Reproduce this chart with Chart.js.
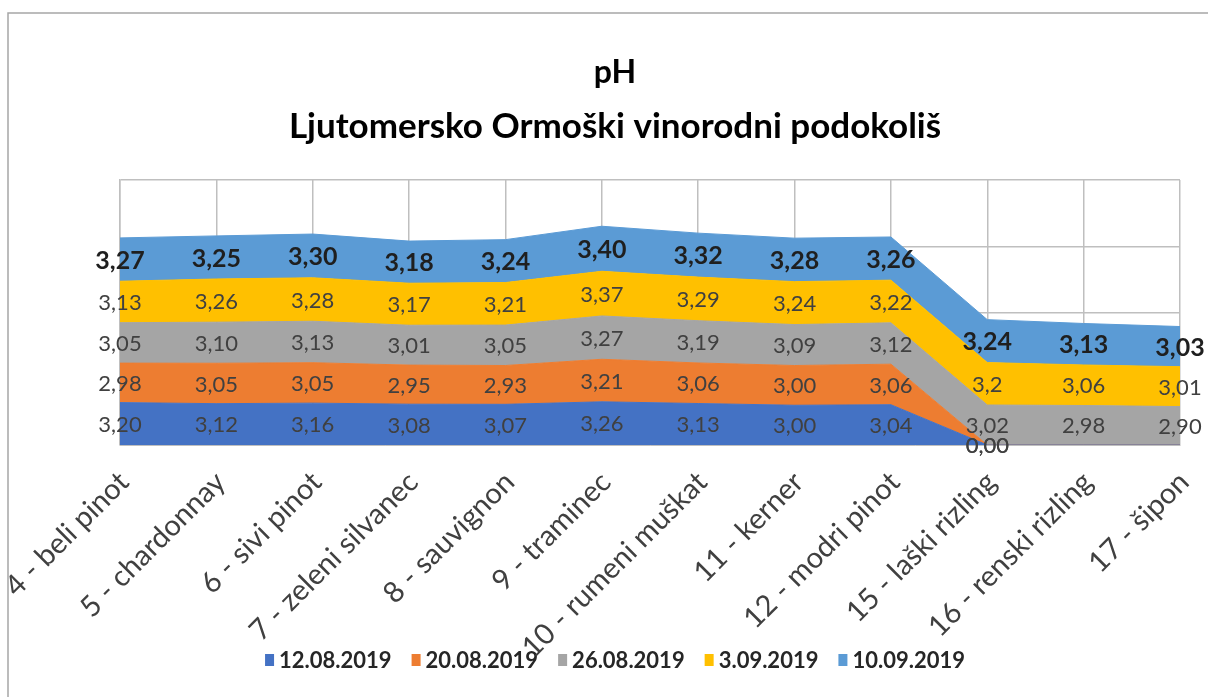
<!DOCTYPE html>
<html><head><meta charset="utf-8">
<script src="https://cdn.jsdelivr.net/npm/chart.js@4/dist/chart.umd.min.js"></script>
<style>html,body{margin:0;padding:0;background:#fff}canvas{display:block}</style>
</head><body>
<canvas id="c" width="1208" height="697"></canvas>
<script>
const categories = ['4 - beli pinot','5 - chardonnay','6 - sivi pinot','7 - zeleni silvanec','8 - sauvignon','9 - traminec','10 - rumeni muškat','11 - kerner','12 - modri pinot','15 - laški rizling','16 - renski rizling','17 - šipon'];
const seriesNames = ['12.08.2019','20.08.2019','26.08.2019','3.09.2019','10.09.2019'];
const s1208 = [3.20,3.12,3.16,3.08,3.07,3.26,3.13,3.00,3.04,0,null,null];
const s2008 = [2.98,3.05,3.05,2.95,2.93,3.21,3.06,3.00,3.06,0,null,null];
const s2608 = [3.05,3.10,3.13,3.01,3.05,3.27,3.19,3.09,3.12,3.02,2.98,2.90];
const s0309 = [3.13,3.26,3.28,3.17,3.21,3.37,3.29,3.24,3.22,3.2,3.06,3.01];
const s1009 = [3.27,3.25,3.30,3.18,3.24,3.40,3.32,3.28,3.26,3.24,3.13,3.03];
const yTicks = [0,5,10,15,20];
const labelFormats = ['fixed','fixed','fixed','general','fixed'];

const seriesData = [s1208, s2008, s2608, s0309, s1009];
const colors = ['#4472C4','#ED7D31','#A5A5A5','#FFC000','#5B9BD5'];
const FONT = "Lato, 'Noto Sans', sans-serif";
const GRID = '#bfbfbf';

function fmt(v, kind){
  const s = kind === 'general' ? String(v) : v.toFixed(2);
  return s.replace('.', ',');
}

// frame + legend drawn under the axis labels (labels overlap the legend as in the reference)
const underlayPlugin = {
  id:'underlay',
  beforeDraw(chart){
    const ctx = chart.ctx;
    ctx.save();
    ctx.fillStyle = '#fff';
    ctx.fillRect(0,0,chart.width,chart.height);
    ctx.strokeStyle = '#a6a6a6';
    ctx.lineWidth = 1.5;
    ctx.beginPath();
    ctx.moveTo(8, chart.height + 5);
    ctx.lineTo(8, 13);
    ctx.lineTo(chart.width + 5, 13);
    ctx.stroke();

    // legend
    ctx.font = "bold 22px " + FONT;
    ctx.textBaseline = 'middle';
    ctx.textAlign = 'left';
    const box = 9, gap = 5, pad = 20, cy = 660, cx = 615;
    const widths = seriesNames.map(n => box + gap + ctx.measureText(n).width);
    const total = widths.reduce((a,b)=>a+b,0) + pad*(widths.length-1);
    let x = cx - total/2;
    seriesNames.forEach((n, i) => {
      ctx.fillStyle = colors[i];
      ctx.fillRect(x, cy - 6, box, 12);
      ctx.fillStyle = '#262626';
      ctx.fillText(n, x + box + gap, cy + 1);
      x += widths[i] + pad;
    });
    ctx.restore();
  }
};

const bandLabels = {
  id:'bandLabels',
  afterDatasetsDraw(chart){
    const ctx = chart.ctx;
    const base = chart.scales.y.getPixelForValue(0);
    ctx.save();
    ctx.textAlign = 'center';
    ctx.textBaseline = 'middle';
    seriesData.forEach((arr, i) => {
      const meta = chart.getDatasetMeta(i);
      const prev = i > 0 ? chart.getDatasetMeta(i-1) : null;
      const top = i === seriesData.length - 1;
      ctx.font = top ? "bold 25px " + FONT : "22px " + FONT;
      ctx.fillStyle = top ? '#1f1f1f' : '#404040';
      meta.data.forEach((pt, j) => {
        const raw = arr[j];
        if (raw === null) return;
        const bottom = prev ? prev.data[j].y : base;
        ctx.fillText(fmt(raw, labelFormats[i]), pt.x, (pt.y + bottom) / 2 + 1);
      });
    });
    ctx.restore();
  }
};

const datasets = seriesData.map((arr, i) => ({
  label: seriesNames[i],
  data: arr.map(v => v === null ? 0 : v),
  backgroundColor: colors[i],
  borderColor: colors[i],
  borderWidth: 1,
  pointRadius: 0,
  pointHoverRadius: 0,
  tension: 0,
  fill: i === 0 ? 'origin' : '-1'
}));

new Chart(document.getElementById('c'), {
  type: 'line',
  data: { labels: categories, datasets },
  plugins: [underlayPlugin, bandLabels],
  options: {
    responsive: false,
    animation: false,
    layout: { padding: { top: 12, left: 50, right: 28, bottom: 0 } },
    plugins: {
      title: {
        display: true, text: 'pH', color: '#000',
        font: { family: FONT, size: 32, weight: 'bold', lineHeight: 1.2 },
        padding: { top: 41.8, bottom: 0 }
      },
      subtitle: {
        display: true, text: 'Ljutomersko Ormoški vinorodni podokoliš', color: '#000',
        font: { family: FONT, size: 35, weight: 'bold', lineHeight: 1.2 },
        padding: { top: 13.8, bottom: 32 }
      },
      legend: { display: false },
      tooltip: { enabled: false }
    },
    scales: {
      x: {
        offset: false,
        grid: { color: GRID, lineWidth: 1.5, drawTicks: false },
        border: { color: GRID },
        ticks: {
          autoSkip: false, minRotation: 45, maxRotation: 45,
          labelOffset: 4, padding: 20,
          color: '#404040',
          font: { family: FONT, size: 29 }
        },
        afterFit(s){ s.height = 252; s.paddingLeft = 0; s.paddingRight = 0; }
      },
      y: {
        stacked: true,
        min: 0, max: 20,
        grid: { color: GRID, lineWidth: 1.5, drawTicks: false },
        border: { color: GRID, width: 1.5 },
        ticks: { display: false, stepSize: 5 },
        afterBuildTicks(s){ s.ticks = yTicks.map(v => ({ value: v })); },
        afterFit(s){ s.width = 70; s.paddingTop = 0; s.paddingBottom = 0; }
      }
    }
  }
});
</script>
</body></html>
